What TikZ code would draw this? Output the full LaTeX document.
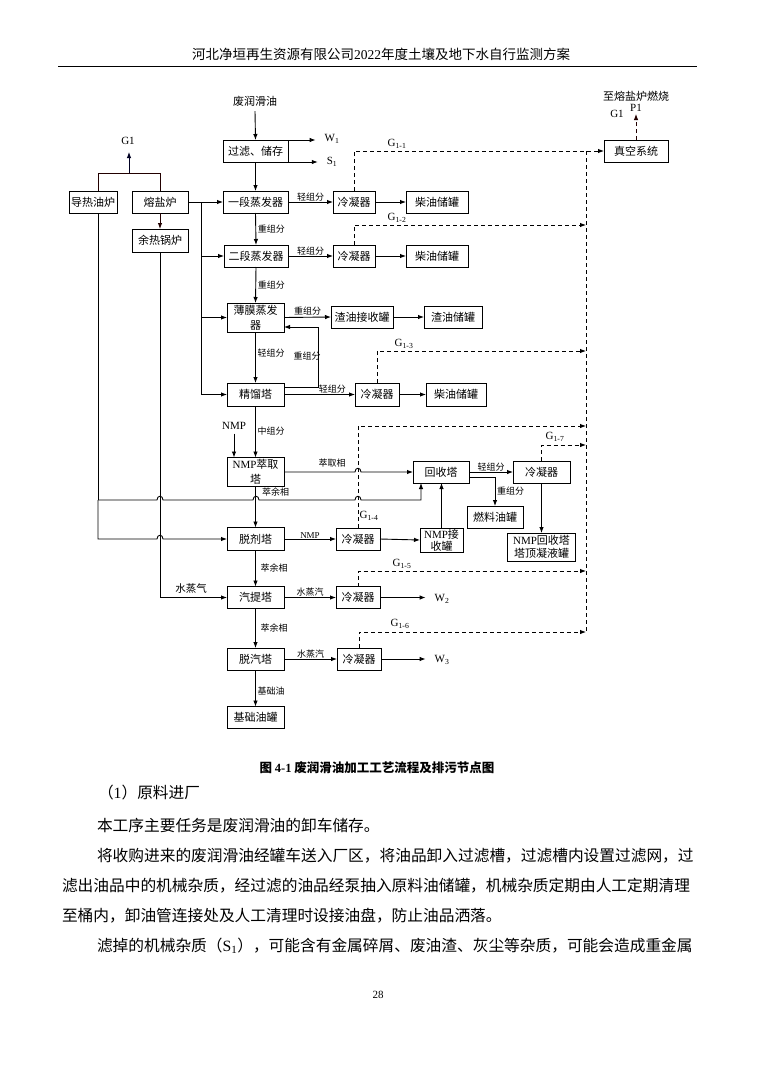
\documentclass[tikz,border=0pt]{standalone}
\usepackage{fontspec}
\setmainfont{Noto Sans CJK SC}
\newfontfamily\tm{Liberation Serif}
\usetikzlibrary{arrows.meta}
\definecolor{ka}{RGB}{34,0,0}
\definecolor{kb}{RGB}{0,0,34}
\begin{document}
\begin{tikzpicture}[x=1pt,y=-1pt,
  every node/.style={inner sep=0pt, outer sep=0pt},
  bx/.style={draw, line width=1pt, minimum height=22pt, align=center, font=\fontsize{11}{14}\selectfont},
  bx2/.style={bx, font=\fontsize{11}{15}\selectfont},
  lb/.style={font=\fontsize{9}{10}\selectfont},
  lt/.style={font=\tm\fontsize{11}{12}\selectfont},
  ln/.style={line width=0.9pt},
  ar/.style={ln, -{Latex[length=6pt,width=4.5pt]}},
  da/.style={line width=0.9pt, dash pattern=on 4pt off 3pt},
  dar/.style={da, -{Latex[length=6pt,width=4.5pt]}},
  body/.style={anchor=west, font=\fontsize{15.7}{18}\selectfont}
]
\fill[white] (0,0) rectangle (759,1073);
\useasboundingbox (0,0) rectangle (759,1073);

% header
\node[font=\fontsize{13.5}{15}\selectfont] (hdr) at (381,54) {河北净垣再生资源有限公司{\tm 2022}年度土壤及地下水自行监测方案};
\draw[line width=1.2pt] (58,66.5) coordinate (hl) -- (697,66.5) coordinate (hr);

% furnaces
\node[bx, minimum width=48pt] (ho) at (93,202) {导热油炉};
\node[bx, minimum width=56pt] (ms) at (160,202) {熔盐炉};
\node[bx, minimum width=56pt, minimum height=23pt] (wh) at (160,240.5) {余热锅炉};
\node[lt] (gone) at (128,141) {G1};
\coordinate (jn) at (129,173);
\coordinate (jl) at (98,173);
\coordinate (jr) at (160,173);
\coordinate (hot) at (98,191);
\coordinate (gtip) at (129,152);
\draw[ka, line width=1pt] (hot) -- (jl) -- (jr) -- (ms.north);
\draw[ar, kb] (jn) -- (gtip);
\draw[ar, ka] (ms.south) -- (wh.north);

% feed
\node[font=\fontsize{11}{13}\selectfont] (feed) at (255,101) {废润滑油};
\node[bx, minimum width=65pt] (flt) at (255.5,151) {过滤、储存};
\draw[ar] ([yshift=-5pt]feed.south) -- (flt.north);
\node[lt] (w1) at (332,139) {W\textsubscript{1}};
\node[lt] (s1) at (332,162) {S\textsubscript{1}};
\draw[ar] (flt.north east) -- ([xshift=-9pt]w1.west |- flt.north east);
\draw[ar] (flt.south east) -- ([xshift=-9pt]s1.west |- flt.south east);

% evaporators
\node[bx, minimum width=65pt] (e1) at (255.5,202) {一段蒸发器};
\node[bx, minimum width=64pt] (e2) at (256,256) {二段蒸发器};
\draw[ar] (flt.south) -- (e1.north);
\draw[ar] (e1.south) -- (e2.north) node[lb, midway, anchor=west, xshift=2pt] {重组分};
\node[bx, minimum width=42pt] (c1) at (354,202) {冷凝器};
\node[bx, minimum width=62pt] (t1) at (437,202) {柴油储罐};
\node[bx, minimum width=42pt] (c2) at (354,256) {冷凝器};
\node[bx, minimum width=62pt] (t2) at (437,256) {柴油储罐};
\draw[ar] (e1.east) -- (c1.west) node[lb, midway, anchor=south, yshift=1pt] {轻组分};
\draw[ar] (e2.east) -- (c2.west) node[lb, midway, anchor=south, yshift=1pt] {轻组分};
\draw[ar] (c1.east) -- (t1.west);
\draw[ar] (c2.east) -- (t2.west);

% heat from molten salt furnace
\coordinate (hx) at (201,202);
\draw[ar] (ms.east) -- (e1.west);

% vacuum system
\node[bx, minimum width=64pt] (vac) at (636,151) {真空系统};
\coordinate (vn) at (636,140);
\coordinate (pv) at (636,114);
\draw[dar, ka] (vn) -- (pv);
\node[lt] (pone) at (636,108) {P1};
\node[lt] (gonb) at (617,114) {G1};
\node[font=\fontsize{11}{13}\selectfont] (burn) at (636,96) {至熔盐炉燃烧};
\draw[dar] (c1.north) |- (vac.west);
\node[lt] at (397,144) {G\textsubscript{1-1}};
\coordinate (v2) at (586,225);
\draw[dar] (c2.north) |- (v2);
\node[lt] at (397,218) {G\textsubscript{1-2}};
\coordinate (vtop) at (586,151);
\coordinate (vbot) at (586,632);
\draw[da] (vtop) -- (vbot);

% thin film evaporator
\node[bx2, minimum width=57pt, minimum height=29pt] (tf) at (255.5,317.5) {薄膜蒸发\\器};
\draw[ar] (e2.south) -- (tf.north) node[lb, midway, anchor=west, xshift=2pt] {重组分};
\node[bx, minimum width=62pt] (r1) at (362,317) {渣油接收罐};
\node[bx, minimum width=58pt] (r2) at (453,317) {渣油储罐};
\draw[ar] (tf.east) -- (r1.west) node[lb, midway, anchor=south, yshift=2pt] {重组分};
\draw[ar] (r1.east) -- (r2.west);

% distillation
\node[bx, minimum width=57pt, minimum height=23pt] (d) at (255.5,394.5) {精馏塔};
\draw[ar] (tf.south) -- (d.north) node[lb, midway, anchor=west, xshift=2pt, yshift=4pt] {轻组分};
\draw[ar] ([yshift=7.5pt]d.east) -- ++(34,0) |- ([yshift=-9.5pt]tf.east);
\node[lb] at (307,356) {重组分};
\node[bx, minimum width=44pt, minimum height=23pt] (c3) at (377,394.5) {冷凝器};
\node[bx, minimum width=60pt, minimum height=23pt] (t3) at (456,394.5) {柴油储罐};
\draw[ar] (d.east) -- (c3.west) node[lb, pos=0.68, anchor=south, yshift=1pt] {轻组分};
\draw[ar] (c3.east) -- (t3.west);
\coordinate (v3) at (586,351);
\draw[dar] (c3.north) |- (v3);
\node[lt] at (404,344) {G\textsubscript{1-3}};

% heat distribution lines
\draw[ln] (hx) -- (hx |- d.west);
\draw[ar] (hx |- e2.west) -- (e2.west);
\draw[ar] (hx |- tf.west) -- (tf.west);
\draw[ar] (hx |- d.west) -- (d.west);

% NMP extraction
\node[lt] (nmp) at (234,426) {NMP};
\node[bx2, minimum width=57pt, minimum height=29pt] (ex) at (255.5,472) {{\tm NMP}萃取\\塔};
\draw[ar] ([yshift=-4pt]nmp.south) -- (nmp.south |- ex.north);
\draw[ar] (d.south) -- (ex.north) node[lb, midway, anchor=west, xshift=2pt, yshift=1pt] {中组分};

\node[bx, minimum width=56pt] (rec) at (441,472) {回收塔};
\draw[ar] (ex.east) -- (355,472) .. controls (355,467) and (361,467) .. (361,472) -- (rec.west);
\node[lb] at (332,463) {萃取相};

\node[bx, minimum width=57pt] (c4) at (541.5,472) {冷凝器};
\draw[ar] (rec.east) -- (c4.west) node[lb, midway, anchor=south, yshift=1pt] {轻组分};
\node[bx, minimum width=56pt] (fuel) at (495,517) {燃料油罐};
\draw[ar] ([yshift=-5pt]rec.east) -| (fuel.north);
\node[lb, anchor=west] at (497,491) {重组分};
\node[bx, minimum width=68pt, minimum height=28pt, font=\fontsize{11}{13}\selectfont] (tank) at (541.5,547) {{\tm NMP}回收塔\\塔顶凝液罐};
\draw[ar] (c4.south) -- (tank.north);
\coordinate (v7) at (586,445);
\draw[dar] (c4.north) |- (v7);
\node[lt] at (555,437) {G\textsubscript{1-7}};

% solvent removal
\node[bx, minimum width=57pt, minimum height=23pt] (dt) at (255.5,539) {脱剂塔};
\draw[ar] (ex.south) -- (dt.north);
\node[lb, anchor=west] at (262,492) {萃余相};
\node[bx, minimum width=44pt] (c5) at (358,539) {冷凝器};
\node[bx, minimum width=43pt, minimum height=24pt, font=\fontsize{11}{12}\selectfont] (nr) at (441.5,540) {{\tm NMP}接\\收罐};
\draw[ar] (dt.east) -- (c5.west) node[midway, anchor=south, yshift=1pt, font=\tm\fontsize{9}{10}\selectfont] {NMP};
\draw[ar] (c5.east) -- (nr.west);
\draw[ar] (nr.north) -- (nr.north |- rec.south);
\coordinate (v4) at (586,426);
\draw[dar] (c5.north) |- (v4);
\node[lt] at (369,516) {G\textsubscript{1-4}};

% thermal oil lines
\coordinate (hob) at (98,213);
\coordinate (tj) at (98,500);
\coordinate (rj) at (421,500);
\draw[ln] (hob) -- (tj);
\draw[ar] (tj) -- (157,500) .. controls (157,495) and (163,495) .. (163,500)
  -- (253,500) .. controls (253,495) and (259,495) .. (259,500)
  -- (355,500) .. controls (355,495) and (361,495) .. (361,500)
  -- (rj) -- (rj |- rec.south);
\draw[ar] (tj) -- (98,539) -- (157,539) .. controls (157,534) and (163,534) .. (163,539) -- (dt.west);

% steam stripping
\node[bx, minimum width=57pt] (st) at (255.5,597.5) {汽提塔};
\draw[ar] (dt.south) -- (st.north) node[lb, midway, anchor=west, xshift=5pt] {萃余相};
\draw[ar] (wh.south) |- (st.west);
\node[font=\fontsize{10.5}{12}\selectfont] at (191,589) {水蒸气};
\node[bx, minimum width=44pt] (c6) at (358,597.5) {冷凝器};
\draw[ar] (st.east) -- (c6.west) node[lb, midway, anchor=south, yshift=1pt] {水蒸汽};
\node[lt] (w2) at (442,599) {W\textsubscript{2}};
\draw[ar] (c6.east) -- ([xshift=-9pt]w2.west |- c6.east);
\coordinate (v5) at (586,571);
\draw[dar] (c6.north) |- (v5);
\node[lt] at (402,564) {G\textsubscript{1-5}};

% steam removal
\node[bx, minimum width=57pt] (dg) at (255.5,659) {脱汽塔};
\draw[ar] (st.south) -- (dg.north) node[lb, midway, anchor=west, xshift=5pt] {萃余相};
\node[bx, minimum width=44pt] (c7) at (359,659) {冷凝器};
\draw[ar] (dg.east) -- (c7.west) node[lb, midway, anchor=south, yshift=1pt] {水蒸汽};
\node[lt] (w3) at (442,660) {W\textsubscript{3}};
\draw[ar] (c7.east) -- ([xshift=-9pt]w3.west |- c7.east);
\draw[dar] (c7.north) |- (vbot);
\node[lt] at (400,624) {G\textsubscript{1-6}};

\node[bx, minimum width=57pt] (base) at (255.5,717.5) {基础油罐};
\draw[ar] (dg.south) -- (base.north) node[lb, midway, anchor=west, xshift=2pt, yshift=-3pt] {基础油};

% caption and body text
\node[font=\bfseries\fontsize{12.5}{14}\selectfont] (cap) at (377,768) {图 {\tm\bfseries 4-1} 废润滑油加工工艺流程及排污节点图};
\node[body] (q0) at (98,793) {（{\tm 1}）原料进厂};
\node[body] (q1) at (97,826) {本工序主要任务是废润滑油的卸车储存。};
\node[body] (q2) at (97,856) {将收购进来的废润滑油经罐车送入厂区，将油品卸入过滤槽，过滤槽内设置过滤网，过};
\node[body] (q3) at (62,886) {滤出油品中的机械杂质，经过滤的油品经泵抽入原料油储罐，机械杂质定期由人工定期清理};
\node[body] (q4) at (62,916) {至桶内，卸油管连接处及人工清理时设接油盘，防止油品洒落。};
\node[body] (q5) at (97,946) {滤掉的机械杂质（{\tm S\textsubscript{1}}），可能含有金属碎屑、废油渣、灰尘等杂质，可能会造成重金属};
\node[font=\tm\fontsize{11}{12}\selectfont] (pg) at (378,995) {28};
\end{tikzpicture}
\end{document}
